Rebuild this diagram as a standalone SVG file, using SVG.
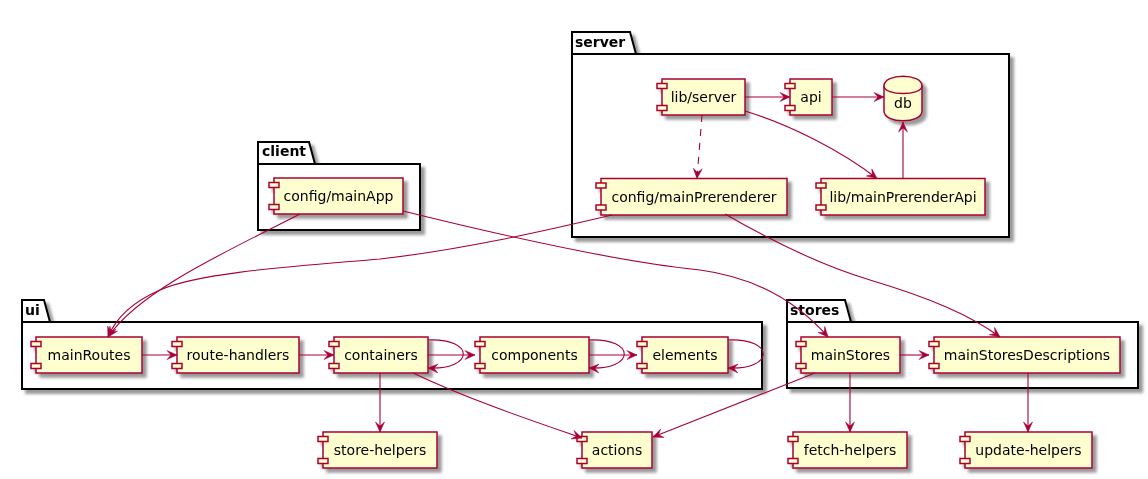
<svg xmlns="http://www.w3.org/2000/svg" width="1148" height="479" viewBox="0 0 1148 479">
<defs>
<filter id="sh" x="-10%" y="-10%" width="130%" height="140%">
<feGaussianBlur in="SourceAlpha" stdDeviation="1.8"/>
<feOffset dx="4" dy="4" result="b"/>
<feComponentTransfer in="b" result="c"><feFuncA type="linear" slope="0.4"/></feComponentTransfer>
<feMerge><feMergeNode in="c"/><feMergeNode in="SourceGraphic"/></feMerge>
</filter>
<marker id="ah" viewBox="-11 -6 12 12" refX="0" refY="0" markerWidth="12" markerHeight="12" markerUnits="userSpaceOnUse" orient="auto">
<path d="M0,0 L-10,-4.5 L-6,0 L-10,4.5 Z" fill="#A80036" stroke="#A80036" stroke-width="0.5"/>
</marker>
</defs>
<style>
.pkg{fill:#FFFFFF;stroke:#000000;stroke-width:2}
.pl{font-family:"DejaVu Sans",sans-serif;font-size:14px;font-weight:bold;fill:#000}
.box{fill:#FEFECE;stroke:#A80036;stroke-width:1.5}
.t{font-family:"DejaVu Sans",sans-serif;font-size:14px;fill:#000;text-anchor:middle}
.e{fill:none;stroke:#A80036;stroke-width:1.1;marker-end:url(#ah)}
.d{stroke-dasharray:7,7}
</style>
<rect x="0" y="0" width="1148" height="479" fill="#FFFFFF"/>

<g id="pkg-server" filter="url(#sh)">
<path class="pkg" d="M572,32 L630,32 L636,54 L1009,54 L1009,237 L572,237 Z"/>
<line x1="572" y1="54" x2="636" y2="54" stroke="#000" stroke-width="2"/>
<text class="pl" x="575" y="47">server</text>
</g>
<g id="pkg-client" filter="url(#sh)">
<path class="pkg" d="M258,142 L309,142 L315,164 L420,164 L420,230 L258,230 Z"/>
<line x1="258" y1="164" x2="315" y2="164" stroke="#000" stroke-width="2"/>
<text class="pl" x="262" y="156">client</text>
</g>
<g id="pkg-ui" filter="url(#sh)">
<path class="pkg" d="M22,300 L44,300 L50,322 L762,322 L762,389 L22,389 Z"/>
<line x1="22" y1="322" x2="50" y2="322" stroke="#000" stroke-width="2"/>
<text class="pl" x="25" y="315">ui</text>
</g>
<g id="pkg-stores" filter="url(#sh)">
<path class="pkg" d="M787,300 L845,300 L851,322 L1138,322 L1138,388 L787,388 Z"/>
<line x1="787" y1="322" x2="851" y2="322" stroke="#000" stroke-width="2"/>
<text class="pl" x="790" y="315">stores</text>
</g>

<g id="n-libserver" filter="url(#sh)">
<rect class="box" x="662" y="79" width="83" height="36"/>
<rect class="box" x="657" y="83.5" width="10" height="5"/>
<rect class="box" x="657" y="105.5" width="10" height="5"/>
<text class="t" x="703.5" y="102">lib/server</text>
</g>
<g id="n-api" filter="url(#sh)">
<rect class="box" x="790" y="79" width="42" height="36"/>
<rect class="box" x="785" y="83.5" width="10" height="5"/>
<rect class="box" x="785" y="105.5" width="10" height="5"/>
<text class="t" x="811" y="102">api</text>
</g>
<g id="n-db" filter="url(#sh)">
<path class="box" d="M884,86 C884,73 922,73 922,86 L922,111 C922,124 884,124 884,111 Z"/>
<path d="M884,86 C884,96 922,96 922,86" fill="none" stroke="#A80036" stroke-width="1.5"/>
<text class="t" x="903" y="108">db</text>
</g>
<g id="n-mainPrerenderer" filter="url(#sh)">
<rect class="box" x="601" y="178.5" width="186" height="36.5"/>
<rect class="box" x="596" y="183" width="10" height="5"/>
<rect class="box" x="596" y="205" width="10" height="5"/>
<text class="t" x="694" y="202">config/mainPrerenderer</text>
</g>
<g id="n-mainPrerenderApi" filter="url(#sh)">
<rect class="box" x="821" y="178.5" width="164" height="36.5"/>
<rect class="box" x="816" y="183" width="10" height="5"/>
<rect class="box" x="816" y="205" width="10" height="5"/>
<text class="t" x="903" y="202">lib/mainPrerenderApi</text>
</g>
<g id="n-mainApp" filter="url(#sh)">
<rect class="box" x="274" y="178" width="129" height="36"/>
<rect class="box" x="269" y="182.5" width="10" height="5"/>
<rect class="box" x="269" y="204.5" width="10" height="5"/>
<text class="t" x="338.5" y="201">config/mainApp</text>
</g>
<g id="n-mainRoutes" filter="url(#sh)">
<rect class="box" x="36" y="337" width="106" height="36"/>
<rect class="box" x="31" y="341.5" width="10" height="5"/>
<rect class="box" x="31" y="363.5" width="10" height="5"/>
<text class="t" x="89" y="360">mainRoutes</text>
</g>
<g id="n-routeHandlers" filter="url(#sh)">
<rect class="box" x="177" y="337" width="122" height="36"/>
<rect class="box" x="172" y="341.5" width="10" height="5"/>
<rect class="box" x="172" y="363.5" width="10" height="5"/>
<text class="t" x="238" y="360">route-handlers</text>
</g>
<g id="n-containers" filter="url(#sh)">
<rect class="box" x="334" y="337" width="94" height="36"/>
<rect class="box" x="329" y="341.5" width="10" height="5"/>
<rect class="box" x="329" y="363.5" width="10" height="5"/>
<text class="t" x="381" y="360">containers</text>
</g>
<g id="n-components" filter="url(#sh)">
<rect class="box" x="480" y="337" width="109" height="36"/>
<rect class="box" x="475" y="341.5" width="10" height="5"/>
<rect class="box" x="475" y="363.5" width="10" height="5"/>
<text class="t" x="534.5" y="360">components</text>
</g>
<g id="n-elements" filter="url(#sh)">
<rect class="box" x="642" y="337" width="86" height="36"/>
<rect class="box" x="637" y="341.5" width="10" height="5"/>
<rect class="box" x="637" y="363.5" width="10" height="5"/>
<text class="t" x="685" y="360">elements</text>
</g>
<g id="n-mainStores" filter="url(#sh)">
<rect class="box" x="801" y="337" width="99" height="36"/>
<rect class="box" x="796" y="341.5" width="10" height="5"/>
<rect class="box" x="796" y="363.5" width="10" height="5"/>
<text class="t" x="850.5" y="360">mainStores</text>
</g>
<g id="n-mainStoresDescriptions" filter="url(#sh)">
<rect class="box" x="934" y="337" width="186" height="36"/>
<rect class="box" x="929" y="341.5" width="10" height="5"/>
<rect class="box" x="929" y="363.5" width="10" height="5"/>
<text class="t" x="1027" y="360">mainStoresDescriptions</text>
</g>
<g id="n-storeHelpers" filter="url(#sh)">
<rect class="box" x="323" y="432" width="114" height="36"/>
<rect class="box" x="318" y="436.5" width="10" height="5"/>
<rect class="box" x="318" y="458.5" width="10" height="5"/>
<text class="t" x="380" y="455">store-helpers</text>
</g>
<g id="n-actions" filter="url(#sh)">
<rect class="box" x="582" y="432" width="70" height="36"/>
<rect class="box" x="577" y="436.5" width="10" height="5"/>
<rect class="box" x="577" y="458.5" width="10" height="5"/>
<text class="t" x="617" y="455">actions</text>
</g>
<g id="n-fetchHelpers" filter="url(#sh)">
<rect class="box" x="793" y="432" width="114" height="36"/>
<rect class="box" x="788" y="436.5" width="10" height="5"/>
<rect class="box" x="788" y="458.5" width="10" height="5"/>
<text class="t" x="850" y="455">fetch-helpers</text>
</g>
<g id="n-updateHelpers" filter="url(#sh)">
<rect class="box" x="965" y="432" width="127" height="36"/>
<rect class="box" x="960" y="436.5" width="10" height="5"/>
<rect class="box" x="960" y="458.5" width="10" height="5"/>
<text class="t" x="1028.5" y="455">update-helpers</text>
</g>

<g id="connectors">
<path class="e" d="M745,97 L790,97"/>
<path class="e" d="M832,97 L884,97"/>
<path class="e d" d="M702,115 L697,178.5"/>
<path class="e" d="M745,111 C790,125 840,150 877,178.5"/>
<path class="e" d="M903,178.5 L903,122"/>
<path class="e" d="M300,214 C230,250 140,290 108,337"/>
<path class="e" d="M612,215 C540,232 460,250 380,259 C300,266 200,272 160,290 C130,303 115,320 108,337"/>
<path class="e" d="M403,211 C500,235 620,262 700,270 C760,278 800,305 828,337"/>
<path class="e" d="M725,214 C770,240 820,265 870,280 C930,298 970,315 1000,337"/>
<path class="e" d="M142,355 L177,355"/>
<path class="e" d="M299,355 L334,355"/>
<path class="e" d="M428,340 C475,338 475,370 428,368"/>
<path class="e" d="M428,355 L475,355"/>
<path class="e" d="M589,340 C636,338 636,370 589,368"/>
<path class="e" d="M589,355 L637,355"/>
<path class="e" d="M728,340 C775,338 775,370 728,368"/>
<path class="e" d="M900,355 L929,355"/>
<path class="e" d="M380,373 L380,432"/>
<path class="e" d="M413,373 C470,400 530,420 582,438"/>
<path class="e" d="M815,373 C760,395 700,418 653,437"/>
<path class="e" d="M850,373 L850,432"/>
<path class="e" d="M1028,373 L1028,432"/>
</g>
</svg>
